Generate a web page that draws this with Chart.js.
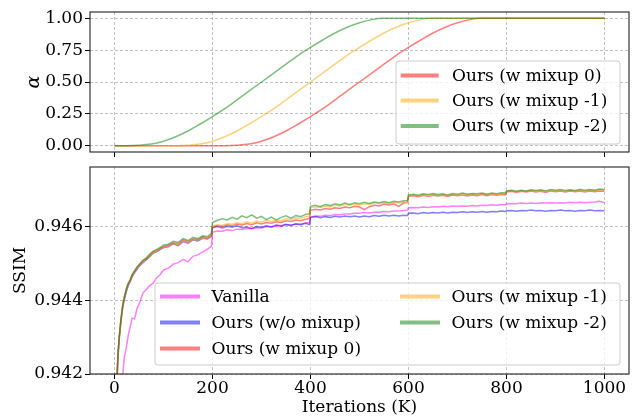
<!DOCTYPE html>
<html><head><meta charset="utf-8">
<script src="https://cdn.jsdelivr.net/npm/chart.js@4"></script>
<style>
html,body{margin:0;padding:0;background:#fff;}
#wrap{position:relative;width:641px;height:417px;overflow:hidden;background:#fff;}
canvas{position:absolute;left:0;}
#c1{top:0;}
#c2{top:160px;}
</style></head><body>
<div id="wrap"><canvas id="c1" width="641" height="160"></canvas><canvas id="c2" width="641" height="257"></canvas></div>
<script>
// ---------- DATA ----------
const xTicks = [0, 200, 400, 600, 800, 1000];
const alphaTicks = [0, 0.25, 0.5, 0.75, 1.0];
const ssimTicks = [0.942, 0.944, 0.946];

const alphaIters = [0,25,50,75,100,125,150,175,200,225,250,275,300,325,350,375,400,425,450,475,500,
  525,550,575,600,625,650,675,700,725,750,775,800,825,850,875,900,925,950,975,1000];
const alphaMix0 = [0,0,0,0,0,0,0,0,0,0,0.003,0.012,0.035,0.07,0.115,0.17,0.228,0.29,0.36,0.43,0.5,
  0.57,0.64,0.71,0.772,0.83,0.885,0.93,0.965,0.99,1,1,1,1,1,1,1,1,1,1,1];
const alphaMix1 = [0,0,0,0,0,0,0.003,0.012,0.035,0.07,0.115,0.17,0.228,0.29,0.36,0.43,0.5,0.57,0.64,0.71,0.772,
  0.83,0.885,0.93,0.965,0.99,1,1,1,1,1,1,1,1,1,1,1,1,1,1,1];
const alphaMix2 = [0,0,0.003,0.012,0.035,0.07,0.115,0.17,0.228,0.29,0.36,0.43,0.5,0.57,0.64,0.71,0.772,0.83,0.885,0.93,0.965,
  0.99,1,1,1,1,1,1,1,1,1,1,1,1,1,1,1,1,1,1,1];

const iterations = [
  4,7,10,13,17,20,24,28,32,36,41,46,51,58,65,72,79,86,93,100,110,120,130,140,150,160,170,180,190,198,
  200,210,220,230,240,250,260,270,280,290,300,310,320,330,340,350,360,370,380,390,398,
  400,410,420,430,440,450,460,470,480,490,500,510,520,530,540,550,560,570,580,590,598,
  600,610,620,630,640,650,660,670,680,690,700,710,720,730,740,750,760,770,780,790,798,
  800,810,820,830,840,850,860,870,880,890,900,910,920,930,940,950,960,970,980,990,1000];

const ssimVanilla = [
  0.9380,0.9386,0.9392,0.9404,0.94200,0.94245,0.94272,0.94305,0.94328,0.94352,0.94350,0.94378,0.94393,0.94420,0.94430,
  0.94441,0.94447,0.94462,0.94470,0.94483,0.94488,0.94499,0.94503,0.94512,0.94505,0.94520,0.94524,0.94532,0.94540,0.94547,
  0.94586,0.94589,0.94588,0.94592,0.94590,0.94594,0.94593,0.94596,0.94595,0.94598,0.94597,0.94601,0.94600,0.94603,0.94602,
  0.94606,0.94605,0.94608,0.94608,0.94611,0.94612,
  0.94627,0.94630,0.94629,0.94632,0.94631,0.94634,0.94633,0.94635,0.94635,0.94637,0.94637,0.94639,0.94638,0.94640,0.94640,
  0.94642,0.94641,0.94643,0.94643,0.94645,0.94646,
  0.94652,0.94653,0.94652,0.94654,0.94653,0.94655,0.94654,0.94656,0.94655,0.94657,0.94656,0.94657,0.94656,0.94658,0.94657,
  0.94659,0.94658,0.94660,0.94659,0.94661,0.94660,
  0.94663,0.94664,0.94663,0.94665,0.94664,0.94665,0.94664,0.94666,0.94665,0.94666,0.94665,0.94666,0.94665,0.94667,0.94666,
  0.94667,0.94666,0.94667,0.94668,0.94670,0.94666];
const ssimNoMix = [
  0.9414,0.9424,0.94300,0.94340,0.94383,0.94401,0.94423,0.94440,0.94451,0.94464,0.94476,0.94485,0.94494,0.94503,0.94511,
  0.94519,0.94529,0.94532,0.94538,0.94544,0.94546,0.94554,0.94549,0.94560,0.94556,0.94565,0.94562,0.94569,0.94567,0.94575,
  0.94598,0.94601,0.94597,0.94602,0.94599,0.94603,0.94598,0.94600,0.94596,0.94601,0.94599,0.94603,0.94600,0.94605,0.94603,
  0.94607,0.94604,0.94608,0.94606,0.94610,0.94606,
  0.94626,0.94628,0.94625,0.94628,0.94626,0.94629,0.94627,0.94630,0.94628,0.94630,0.94627,0.94630,0.94628,0.94631,0.94629,
  0.94632,0.94630,0.94632,0.94630,0.94632,0.94631,
  0.94637,0.94638,0.94636,0.94639,0.94637,0.94639,0.94638,0.94640,0.94638,0.94640,0.94639,0.94641,0.94639,0.94641,0.94640,
  0.94642,0.94640,0.94642,0.94641,0.94643,0.94642,
  0.94644,0.94645,0.94643,0.94645,0.94644,0.94646,0.94644,0.94645,0.94643,0.94645,0.94644,0.94646,0.94644,0.94645,0.94643,
  0.94645,0.94644,0.94646,0.94644,0.94645,0.94644];
const ssimMix0 = [
  0.9415,0.9425,0.94305,0.94346,0.94389,0.94408,0.94430,0.94446,0.94454,0.94469,0.94478,0.94489,0.94497,0.94507,0.94513,
  0.94523,0.94532,0.94536,0.94541,0.94547,0.94550,0.94557,0.94554,0.94564,0.94560,0.94568,0.94565,0.94573,0.94570,0.94578,
  0.94600,0.94604,0.94601,0.94606,0.94603,0.94608,0.94605,0.94609,0.94606,0.94611,0.94608,0.94612,0.94610,0.94614,0.94612,
  0.94617,0.94615,0.94619,0.94617,0.94621,0.94623,
  0.94645,0.94648,0.94646,0.94650,0.94648,0.94652,0.94650,0.94654,0.94652,0.94656,0.94654,0.94647,0.94655,0.94659,0.94657,
  0.94662,0.94660,0.94663,0.94656,0.94665,0.94666,
  0.94683,0.94685,0.94682,0.94686,0.94683,0.94686,0.94684,0.94686,0.94683,0.94687,0.94685,0.94687,0.94684,0.94687,0.94685,
  0.94688,0.94685,0.94688,0.94686,0.94688,0.94687,
  0.94695,0.94697,0.94694,0.94697,0.94695,0.94698,0.94695,0.94697,0.94694,0.94698,0.94696,0.94698,0.94695,0.94698,0.94696,
  0.94698,0.94695,0.94698,0.94696,0.94698,0.94697];
const ssimMix1 = [
  0.9415,0.9425,0.94304,0.94345,0.94388,0.94407,0.94428,0.94444,0.94455,0.94467,0.94479,0.94487,0.94496,0.94505,0.94514,
  0.94520,0.94531,0.94533,0.94540,0.94545,0.94547,0.94555,0.94552,0.94561,0.94558,0.94566,0.94563,0.94570,0.94569,0.94577,
  0.94602,0.94606,0.94604,0.94609,0.94607,0.94612,0.94609,0.94614,0.94611,0.94616,0.94613,0.94618,0.94615,0.94619,0.94617,
  0.94622,0.94620,0.94625,0.94623,0.94628,0.94630,
  0.94652,0.94655,0.94653,0.94657,0.94655,0.94659,0.94657,0.94661,0.94659,0.94662,0.94660,0.94663,0.94661,0.94665,0.94663,
  0.94666,0.94664,0.94667,0.94665,0.94668,0.94668,
  0.94685,0.94687,0.94684,0.94688,0.94686,0.94689,0.94686,0.94688,0.94686,0.94689,0.94687,0.94690,0.94688,0.94690,0.94688,
  0.94691,0.94688,0.94690,0.94689,0.94691,0.94690,
  0.94697,0.94699,0.94696,0.94699,0.94697,0.94700,0.94697,0.94700,0.94697,0.94700,0.94698,0.94700,0.94697,0.94700,0.94698,
  0.94701,0.94698,0.94701,0.94699,0.94701,0.94700];
const ssimMix2 = [
  0.9415,0.9426,0.94307,0.94348,0.94390,0.94410,0.94431,0.94447,0.94457,0.94471,0.94481,0.94492,0.94499,0.94510,0.94516,
  0.94526,0.94534,0.94539,0.94544,0.94551,0.94553,0.94561,0.94558,0.94568,0.94563,0.94572,0.94568,0.94576,0.94574,0.94583,
  0.94612,0.94618,0.94622,0.94619,0.94626,0.94621,0.94630,0.94625,0.94633,0.94624,0.94629,0.94620,0.94627,0.94619,0.94626,
  0.94630,0.94624,0.94631,0.94628,0.94634,0.94636,
  0.94656,0.94659,0.94655,0.94661,0.94658,0.94663,0.94660,0.94665,0.94661,0.94666,0.94663,0.94667,0.94664,0.94668,0.94666,
  0.94669,0.94666,0.94670,0.94668,0.94671,0.94672,
  0.94687,0.94689,0.94686,0.94690,0.94688,0.94691,0.94688,0.94690,0.94687,0.94691,0.94689,0.94692,0.94689,0.94691,0.94690,
  0.94692,0.94689,0.94692,0.94690,0.94693,0.94692,
  0.94698,0.94700,0.94697,0.94700,0.94698,0.94701,0.94699,0.94701,0.94698,0.94702,0.94700,0.94702,0.94699,0.94701,0.94699,
  0.94702,0.94700,0.94702,0.94700,0.94703,0.94702];

// ---------- STYLE ----------
const FONT = "'DejaVu Serif', serif";
const C_RED = 'rgba(255,0,0,0.5)', C_ORANGE = 'rgba(255,165,0,0.5)', C_GREEN = 'rgba(0,128,0,0.5)',
      C_BLUE = 'rgba(0,0,255,0.5)', C_MAG = 'rgba(255,0,255,0.5)';
Chart.defaults.font.family = FONT;
Chart.defaults.font.size = 17;
Chart.defaults.color = '#000';

const framePlugin = {
  id: 'frame',
  afterDatasetsDraw(chart) {
    const {ctx, chartArea: a} = chart;
    ctx.save(); ctx.setLineDash([]);
    ctx.strokeStyle = '#222'; ctx.lineWidth = 1.1;
    ctx.strokeRect(a.left, a.top, a.right - a.left, a.bottom - a.top);
    ctx.restore();
  }
};
function makeLegend(layout) {
  return {
    id: 'boxLegend',
    afterDraw(chart) {
      const ctx = chart.ctx, b = layout.box, r = 3;
      ctx.save(); ctx.setLineDash([]);
      ctx.beginPath();
      ctx.moveTo(b.x + r, b.y); ctx.lineTo(b.x + b.w - r, b.y); ctx.arcTo(b.x + b.w, b.y, b.x + b.w, b.y + r, r);
      ctx.lineTo(b.x + b.w, b.y + b.h - r); ctx.arcTo(b.x + b.w, b.y + b.h, b.x + b.w - r, b.y + b.h, r);
      ctx.lineTo(b.x + r, b.y + b.h); ctx.arcTo(b.x, b.y + b.h, b.x, b.y + b.h - r, r);
      ctx.lineTo(b.x, b.y + r); ctx.arcTo(b.x, b.y, b.x + r, b.y, r); ctx.closePath();
      ctx.fillStyle = 'rgba(255,255,255,0.8)'; ctx.fill();
      ctx.strokeStyle = '#cccccc'; ctx.lineWidth = 1; ctx.stroke();
      chart.data.datasets.forEach((ds, i) => {
        const it = layout.items[i];
        ctx.beginPath(); ctx.moveTo(it.x, it.y); ctx.lineTo(it.x + layout.sample, it.y);
        ctx.strokeStyle = ds.borderColor; ctx.lineWidth = 4; ctx.lineCap = 'butt'; ctx.stroke();
        ctx.fillStyle = '#000'; ctx.font = "17px " + FONT; ctx.textBaseline = 'middle'; ctx.textAlign = 'left';
        ctx.fillText(ds.label, it.x + layout.gap, it.y + 1);
      });
      ctx.restore();
    }
  };
}
const gridOpts = { color: '#b0b0b0', lineWidth: 0.8, tickLength: 5, tickColor: '#000', tickWidth: 1 };
const borderOpts = { display: false, dash: [3, 2] };

function xScale(showLabels, height, title) {
  return {
    type: 'linear', min: -50, max: 1050,
    afterBuildTicks: s => { s.ticks = xTicks.map(v => ({value: v})); },
    afterFit: s => { s.height = height; s.paddingLeft = 0; s.paddingRight = 0; },
    grid: gridOpts, border: borderOpts,
    ticks: { display: showLabels, padding: 0, maxRotation: 0, autoSkip: false,
             font: {size: 17, lineHeight: 1.1}, color: '#000', callback: v => String(v) },
    title: title ? { display: true, text: title, color: '#000', font: {size: 17, lineHeight: 1.0},
                     padding: {top: 0, bottom: 0.5} } : { display: false }
  };
}
function yScale(min, max, ticks, digits, title, titlePad, titleFont) {
  return {
    type: 'linear', min: min, max: max,
    afterBuildTicks: s => { s.ticks = ticks.map(v => ({value: v})); },
    afterFit: s => { s.width = 90; s.paddingTop = 0; s.paddingBottom = 0; },
    grid: gridOpts, border: borderOpts,
    ticks: { padding: 2, autoSkip: false, font: {size: 17}, color: '#000', callback: v => Number(v).toFixed(digits) },
    title: { display: true, text: title, color: '#000', font: titleFont, padding: {top: titlePad, bottom: 0} }
  };
}
function pts(xs, ys) { return xs.map((x, i) => ({x: x, y: ys[i]})); }
function ds(label, xs, ys, color, order, smooth) {
  return { label: label, data: pts(xs, ys), borderColor: color, backgroundColor: color, borderWidth: 1.5,
           pointRadius: 0, fill: false, order: order,
           cubicInterpolationMode: smooth ? 'monotone' : 'default', tension: 0 };
}

new Chart(document.getElementById('c1'), {
  type: 'line',
  data: { datasets: [
    ds('Ours (w mixup 0)', alphaIters, alphaMix0, C_RED, 2, true),
    ds('Ours (w mixup -1)', alphaIters, alphaMix1, C_ORANGE, 1, true),
    ds('Ours (w mixup -2)', alphaIters, alphaMix2, C_GREEN, 0, true)
  ]},
  options: {
    responsive: false, animation: false, devicePixelRatio: 1,
    layout: { padding: {left: 0, right: 12, top: 12, bottom: 0} },
    plugins: { legend: {display: false}, tooltip: {enabled: false} },
    scales: {
      x: xScale(false, 8, null),
      y: yScale(-0.05, 1.05, alphaTicks, 2, 'α', 23, {size: 19, style: 'italic'})
    }
  },
  plugins: [framePlugin, makeLegend({
    box: {x: 396, y: 61, w: 224, h: 83}, sample: 38, gap: 51.3,
    items: [{x: 400.7, y: 75.5}, {x: 400.7, y: 100.5}, {x: 400.7, y: 126}]
  })]
});

new Chart(document.getElementById('c2'), {
  type: 'line',
  data: { datasets: [
    ds('Vanilla', iterations, ssimVanilla, C_MAG, 4, false),
    ds('Ours (w/o mixup)', iterations, ssimNoMix, C_BLUE, 3, false),
    ds('Ours (w mixup 0)', iterations, ssimMix0, C_RED, 2, false),
    ds('Ours (w mixup -1)', iterations, ssimMix1, C_ORANGE, 1, false),
    ds('Ours (w mixup -2)', iterations, ssimMix2, C_GREEN, 0, false)
  ]},
  options: {
    responsive: false, animation: false, devicePixelRatio: 1,
    layout: { padding: {left: 0, right: 12, top: 7, bottom: 0} },
    plugins: { legend: {display: false}, tooltip: {enabled: false} },
    scales: {
      x: xScale(true, 43, 'Iterations (K)'),
      y: yScale(0.942, 0.94763, ssimTicks, 3, 'SSIM', 10, {size: 17})
    }
  },
  plugins: [framePlugin, makeLegend({
    box: {x: 155, y: 123, w: 465, h: 82}, sample: 40, gap: 51.5,
    items: [{x: 160, y: 136.5}, {x: 160, y: 162.5}, {x: 160, y: 188.5}, {x: 400, y: 136.5}, {x: 400, y: 162.5}]
  })]
});
</script>
</body></html>
